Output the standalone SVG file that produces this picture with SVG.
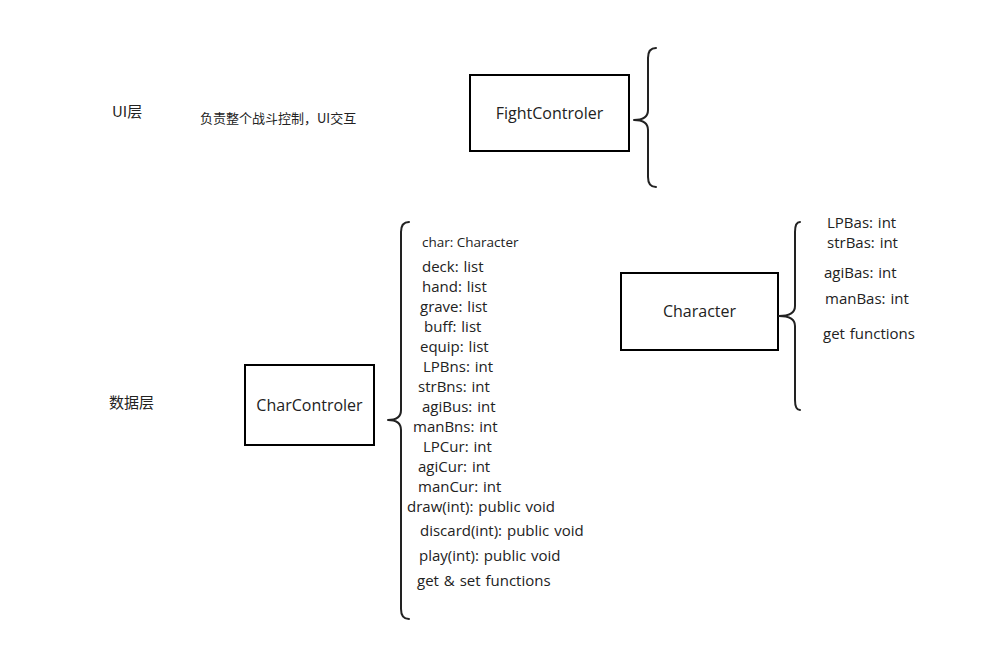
<svg xmlns="http://www.w3.org/2000/svg" width="983" height="651" viewBox="0 0 983 651">
<style>
.box{fill:#fff;stroke:#000;stroke-width:2}
.br{fill:none;stroke:#222;stroke-width:2;stroke-linecap:round;stroke-linejoin:round}
text{font-family:"Open Sans","Noto Sans CJK SC",sans-serif;fill:#222}
.t{font-size:15px;word-spacing:1px}
.s{font-size:13.5px}
.n{font-size:16px;text-anchor:middle}
.c{font-family:"Noto Sans CJK SC",sans-serif}
</style>
<rect width="983" height="651" fill="#fff"/>
<g id="labels">
<text class="c" font-size="15" x="112" y="117">UI层</text>
<text class="c" font-size="13" x="200" y="123">负责整个战斗控制，UI交互</text>
<text class="c" font-size="15" x="109" y="408">数据层</text>
</g>
<g id="FightControler">
<rect class="box" x="470" y="75" width="159" height="76"/>
<text class="n" x="549.5" y="119">FightControler</text>
</g>
<g id="CharControler">
<rect class="box" x="245" y="365" width="129" height="80"/>
<text class="n" x="309.5" y="411">CharControler</text>
</g>
<g id="Character">
<rect class="box" x="621" y="273" width="157" height="77"/>
<text class="n" x="699.5" y="317">Character</text>
</g>
<g id="connectors">
<path class="br" d="M656,48 Q648,48 648,58 L648,110 Q648,120 634,120 Q648,120 648,130 L648,177 Q648,187 656,187"/>
<path class="br" d="M409,222 Q401,222 401,232 L401,410 Q401,420 388,420 Q401,420 401,430 L401,609 Q401,619 409,619"/>
<path class="br" d="M800,222 Q795,222 795,232 L795,306 Q795,316 779,316 Q795,316 795,326 L795,400 Q795,410 800,410"/>
</g>
<g id="CharControler-fields">
<text class="s" x="422" y="247">char: Character</text>
<text class="t" x="422" y="272">deck: list</text>
<text class="t" x="422" y="292">hand: list</text>
<text class="t" x="420" y="312">grave: list</text>
<text class="t" x="424" y="332">buff: list</text>
<text class="t" x="420" y="352">equip: list</text>
<text class="t" x="423" y="372">LPBns: int</text>
<text class="t" x="418" y="392">strBns: int</text>
<text class="t" x="422" y="412">agiBus: int</text>
<text class="t" x="413" y="432">manBns: int</text>
<text class="t" x="423" y="452">LPCur: int</text>
<text class="t" x="418" y="472">agiCur: int</text>
<text class="t" x="418" y="492">manCur: int</text>
<text class="t" x="407" y="512">draw(int): public void</text>
<text class="t" x="420" y="536">discard(int): public void</text>
<text class="t" x="419" y="561">play(int): public void</text>
<text class="t" x="417" y="586">get &amp; set functions</text>
</g>
<g id="Character-fields">
<text class="t" x="827" y="228">LPBas: int</text>
<text class="t" x="827" y="248">strBas: int</text>
<text class="t" x="824" y="278">agiBas: int</text>
<text class="t" x="825" y="304">manBas: int</text>
<text class="t" x="823" y="339">get functions</text>
</g>
</svg>
